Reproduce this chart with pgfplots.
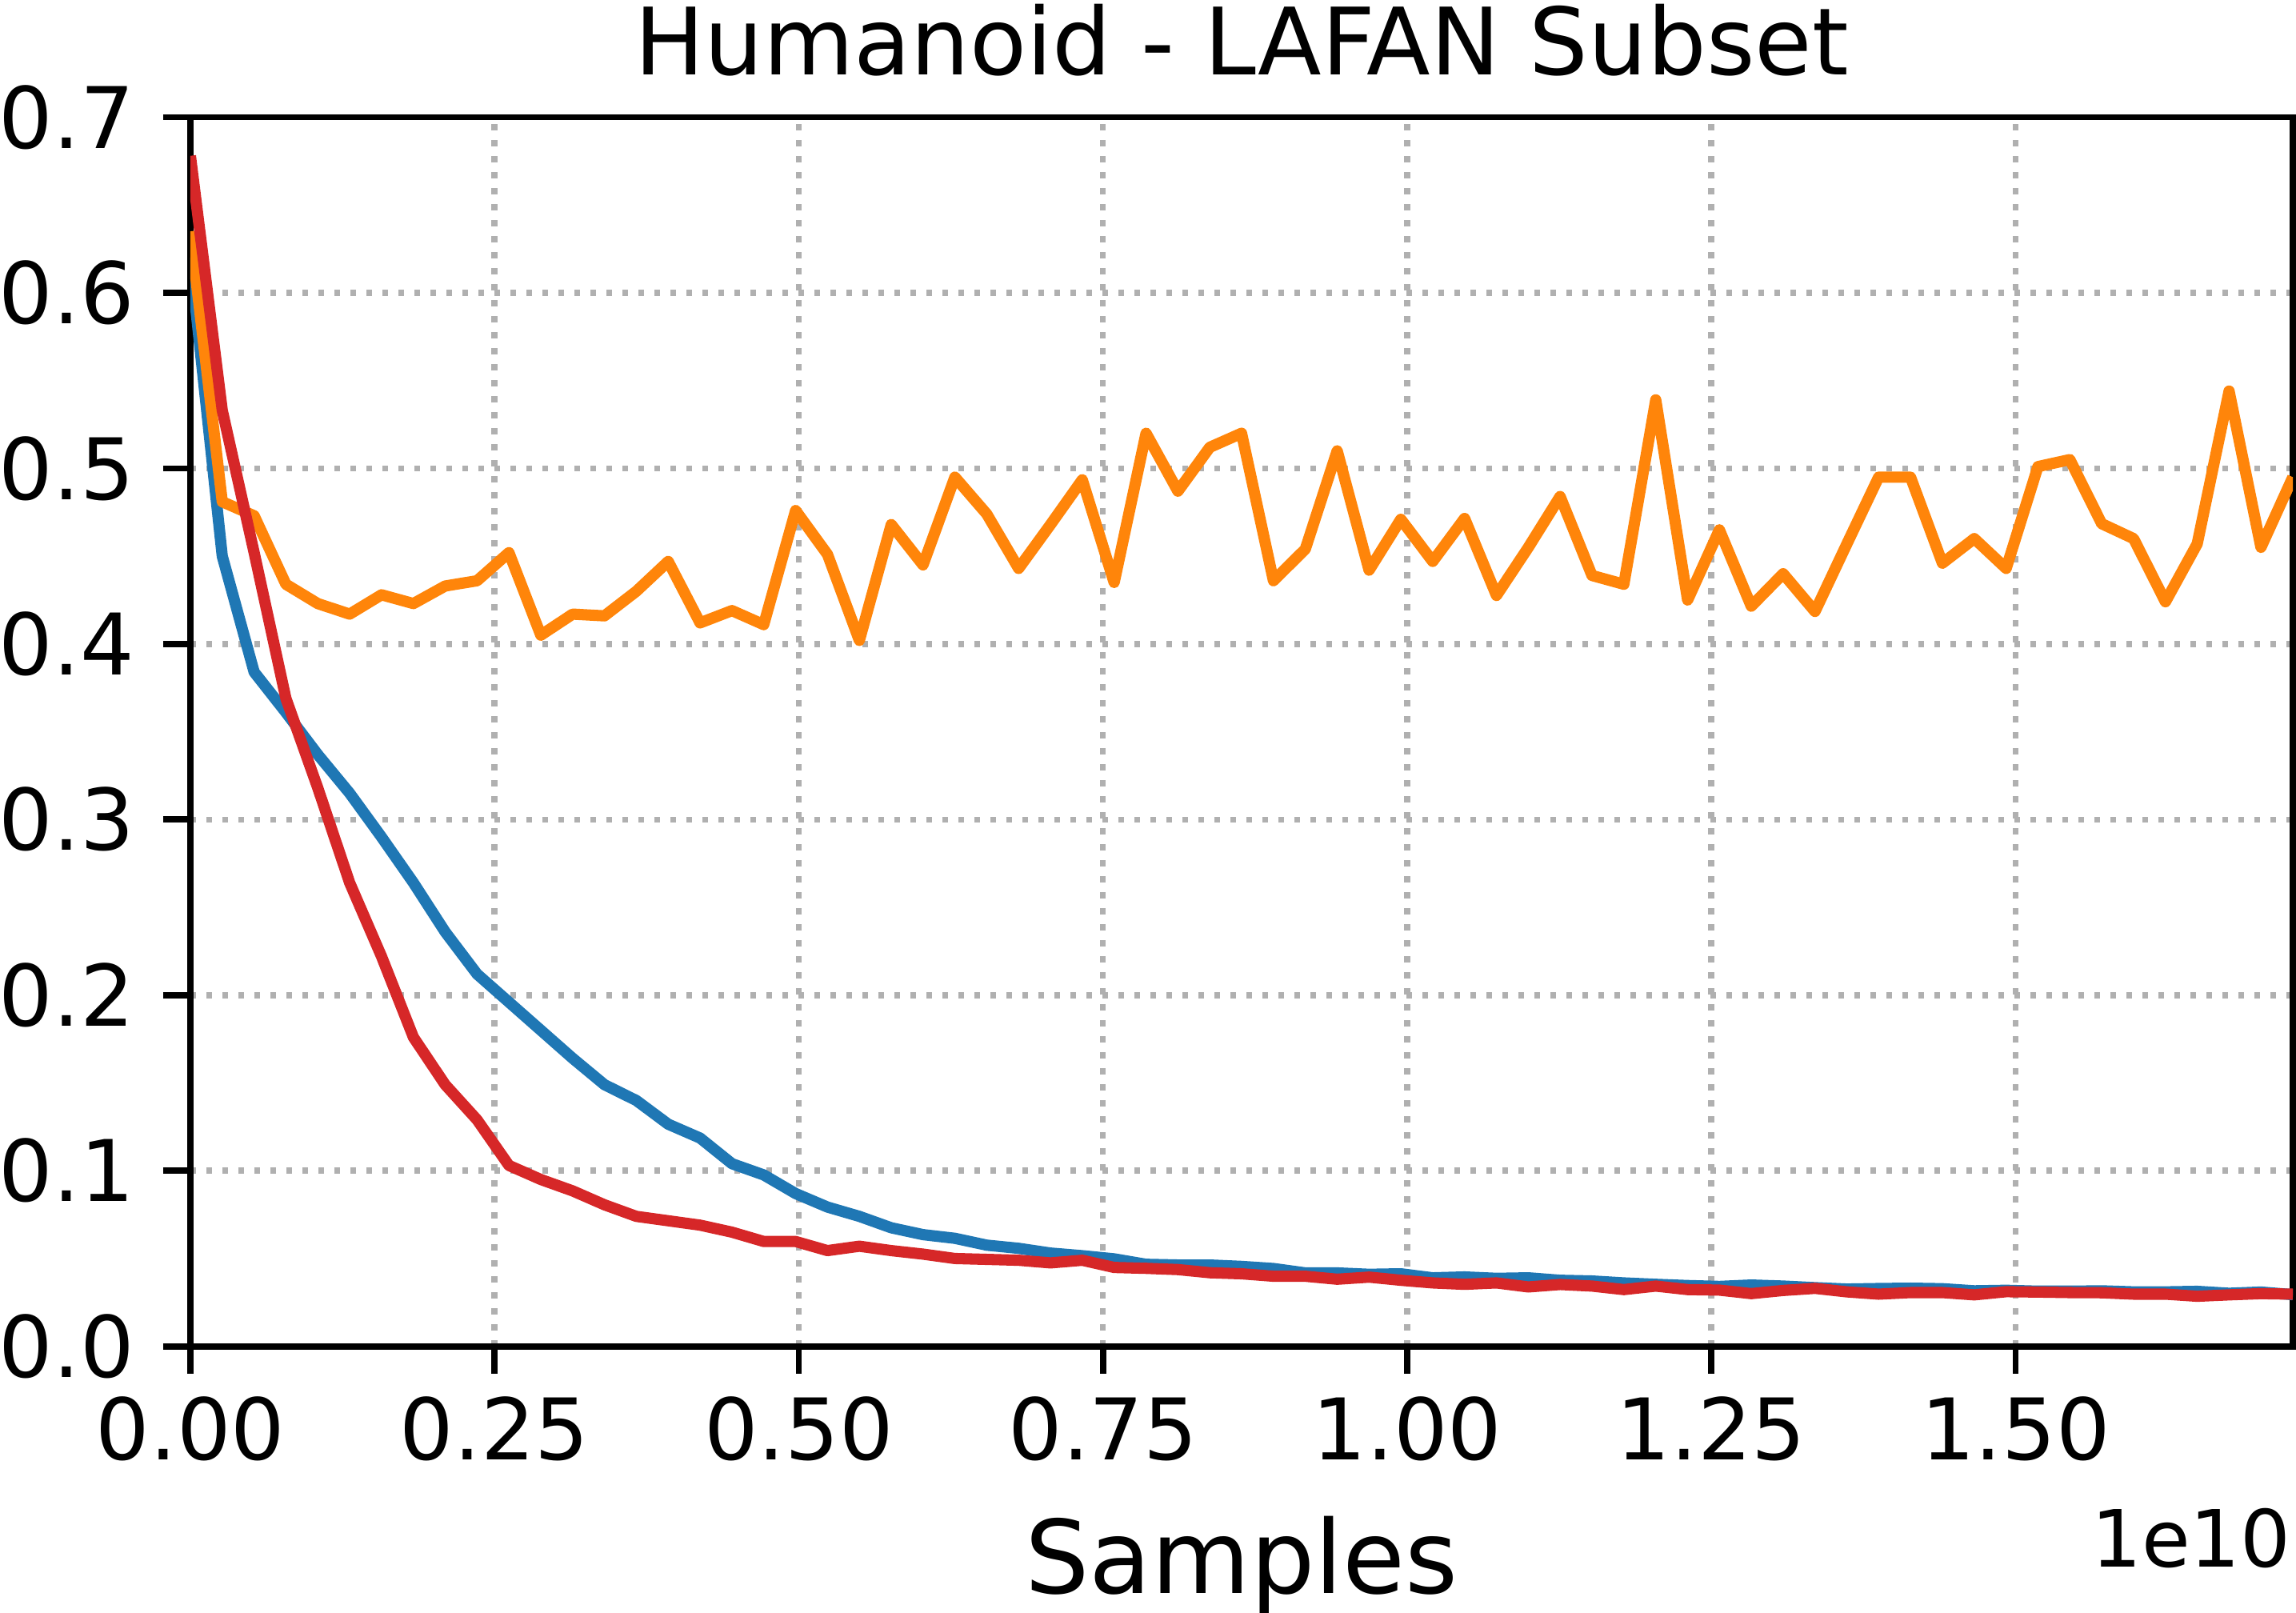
\documentclass[border=0pt]{standalone}
\usepackage{fontspec}
\setmainfont{DejaVu Sans}
\usepackage{pgfplots}
\pgfplotsset{compat=1.18}
\usepackage{pgfplotstable}
\definecolor{cblue}{HTML}{1F77B4}
\definecolor{corange}{HTML}{FF850A}
\definecolor{cred}{HTML}{D62728}
\definecolor{cgrid}{HTML}{B0B0B0}

\pgfplotstableread{
x      blue    orange  red
0      0.620   0.635   0.678
0.0262 0.450   0.481   0.533
0.0524 0.384   0.473   0.452
0.0785 0.361   0.434   0.369
0.1047 0.337   0.423   0.318
0.1309 0.315   0.417   0.264
0.1571 0.290   0.428   0.222
0.1833 0.264   0.423   0.176
0.2094 0.236   0.433   0.149
0.2356 0.212   0.436   0.129
0.2618 0.196   0.452   0.103
0.2880 0.180   0.405   0.095
0.3142 0.164   0.417   0.0885
0.3403 0.149   0.416   0.0806
0.3665 0.140   0.430   0.074
0.3927 0.1265  0.447   0.0715
0.4189 0.1186  0.412   0.069
0.4451 0.104   0.419   0.065
0.4712 0.0976  0.411   0.0597
0.4974 0.087   0.476   0.0597
0.5236 0.0793  0.451   0.0545
0.5498 0.074   0.402   0.057
0.5760 0.0675  0.468   0.0545
0.6021 0.0636  0.445   0.0525
0.6283 0.0615  0.495   0.050
0.6545 0.0576  0.474   0.0495
0.6807 0.0558  0.443   0.049
0.7069 0.0531  0.468   0.0475
0.7330 0.0516  0.4935  0.049
0.7592 0.0498  0.435   0.0449
0.7854 0.0467  0.520   0.0444
0.8116 0.0463  0.487   0.0437
0.8378 0.0463  0.512   0.0419
0.8639 0.0455  0.520   0.0413
0.8901 0.0443  0.436   0.0399
0.9163 0.0418  0.454   0.0399
0.9425 0.0418  0.510   0.0382
0.9687 0.0410  0.442   0.0394
0.9948 0.0413  0.471   0.0376
1.0210 0.0390  0.447   0.0361
1.0472 0.0395  0.4715  0.0353
1.0734 0.0387  0.4276  0.0361
1.0996 0.0390  0.455   0.0338
1.1257 0.0376  0.484   0.0352
1.1519 0.0372  0.439   0.0343
1.1781 0.0361  0.434   0.0323
1.2043 0.0353  0.539   0.0343
1.2305 0.0346  0.425   0.0323
1.2566 0.0341  0.465   0.0320
1.2828 0.0349  0.4215  0.0300
1.3090 0.0343  0.440   0.0318
1.3352 0.0334  0.4185  0.0330
1.3614 0.0326  0.457   0.0310
1.3875 0.0329  0.495   0.0297
1.4137 0.0331  0.495   0.0306
1.4399 0.0328  0.446   0.0306
1.4661 0.0316  0.460   0.0293
1.4923 0.0319  0.443   0.0311
1.5184 0.0314  0.501   0.0309
1.5446 0.0314  0.505   0.0306
1.5708 0.0316  0.4685  0.0305
1.5970 0.0310  0.460   0.0297
1.6232 0.0310  0.424   0.0297
1.6493 0.0313  0.457   0.0285
1.6755 0.0302  0.544   0.0293
1.7017 0.0309  0.455   0.0300
1.7279 0.0294  0.495   0.0297
}\datatable

\begin{document}
\begin{tikzpicture}
\begin{axis}[
  scale only axis,
  width=420.5pt, height=245.8pt,
  xmin=0, xmax=1.7279, ymin=0, ymax=0.7,
  xtick={0,0.25,0.5,0.75,1,1.25,1.5},
  xticklabels={0.00,0.25,0.50,0.75,1.00,1.25,1.50},
  ytick={0,0.1,0.2,0.3,0.4,0.5,0.6,0.7},
  yticklabels={0.0,0.1,0.2,0.3,0.4,0.5,0.6,0.7},
  scaled x ticks=false, scaled y ticks=false,
  tick pos=left,
  tick align=outside,
  major tick length=5.44pt,
  every tick/.style={black, line width=1.23pt},
  axis line style={black, line width=1.23pt},
  grid=major,
  major grid style={cgrid, line width=1.2pt, dash pattern=on 1.2pt off 2pt},
  ticklabel style={font=\fontsize{17}{20}\selectfont, inner sep=0pt},
  xticklabel style={anchor=north, yshift=-4.5pt},
  yticklabel style={anchor=east, xshift=-5.6pt},
  title={Humanoid - LAFAN Subset},
  title style={font=\fontsize{18.6}{22}\selectfont, at={(axis description cs:0.5,1)}, anchor=base, yshift=2.5pt, inner sep=0pt},
  xlabel={Samples},
  xlabel style={font=\fontsize{20.3}{24}\selectfont, at={(axis description cs:0.5,0)}, anchor=base, yshift=-49.4pt, inner sep=0pt},
  clip=true,
]
\addplot[cblue, line width=2.25pt, line join=round] table[x=x, y=blue] {\datatable};
\addplot[corange, line width=2.25pt, line join=round] table[x=x, y=orange] {\datatable};
\addplot[cred, line width=2.25pt, line join=round] table[x=x, y=red] {\datatable};
\coordinate (ll) at (rel axis cs:0,0);
\coordinate (lr) at (rel axis cs:1,0);
\coordinate (ur) at (rel axis cs:1,1);
\end{axis}
\node[anchor=base east, inner sep=0pt, font=\fontsize{15.8}{19}\selectfont] at ([xshift=-0.2pt, yshift=-44.1pt]lr) {1e10};
\pgfresetboundingbox
\useasboundingbox ([xshift=-38.08pt, yshift=-53.18pt]ll) rectangle ([xshift=0.64pt, yshift=23.44pt]ur);
\end{tikzpicture}
\end{document}
